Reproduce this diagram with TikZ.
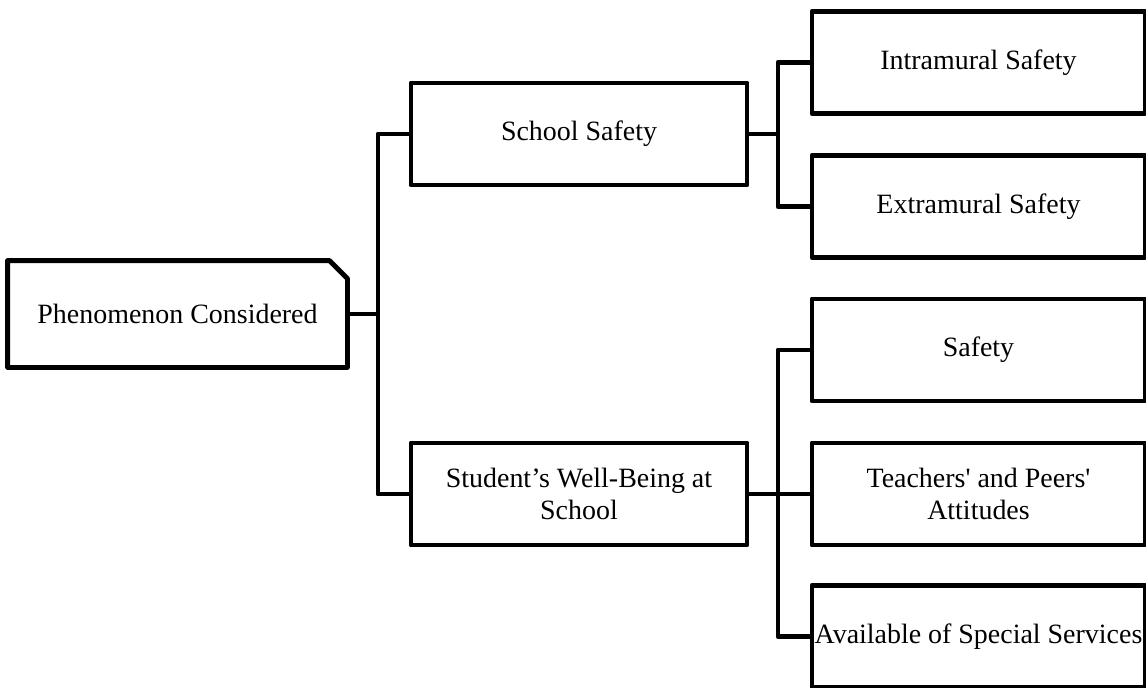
\documentclass[tikz,border=0pt]{standalone}
\usepackage{fontspec}
\setmainfont{Liberation Serif}
\usetikzlibrary{shapes.misc}

\begin{document}
\begin{tikzpicture}[
        box/.style={draw, line width=2.8pt, line join=round, minimum height=2.04cm,
            align=center, inner sep=0pt, font=\fontsize{15.9}{18.5}\selectfont},
        leaf/.style={box, minimum width=6.66cm},
        mid/.style={box, minimum width=6.72cm},
        link/.style={line width=2.8pt, line join=round}
    ]
        \useasboundingbox (0,0) rectangle (22.92,-13.74);

        % root
        \node[box, draw=none, minimum width=6.7cm] (root) at (3.55,-6.28) {Phenomenon Considered};
        \draw[link] (root.south west) -- (root.north west) -- ([xshift=-0.36cm]root.north east)
            -- ([yshift=-0.36cm]root.north east) -- (root.south east) -- cycle;

        % middle column
        \node[mid] (school) at (11.58,-2.68) {School Safety};
        \node[mid] (student) at (11.58,-9.88) {Student’s Well-Being at\\School};

        % right column
        \node[leaf] (intra) at (19.57,-1.25) {Intramural Safety};
        \node[leaf] (extra) at (19.57,-4.13) {Extramural Safety};
        \node[leaf] (safety) at (19.57,-7.0) {Safety};
        \node[leaf] (attit) at (19.57,-9.88) {Teachers\textquotesingle{} and Peers\textquotesingle\\Attitudes};
        \node[leaf] (services) at (19.57,-12.73) {Available of Special Services};

        % buses
        \coordinate (busa) at (7.56,0);
        \coordinate (busb) at (15.56,0);

        % root to middle
        \draw[link] (root.east) -- (root.east -| busa);
        \draw[link] (school.west) -| (busa |- student.west) -- (student.west);

        % school to leaves
        \draw[link] (school.east) -- (school.east -| busb);
        \draw[link] (intra.west) -| (busb |- extra.west) -- (extra.west);

        % student to leaves
        \draw[link] (student.east) -- (attit.west);
        \draw[link] (safety.west) -| (busb |- services.west) -- (services.west);
    \end{tikzpicture}
\end{document}
